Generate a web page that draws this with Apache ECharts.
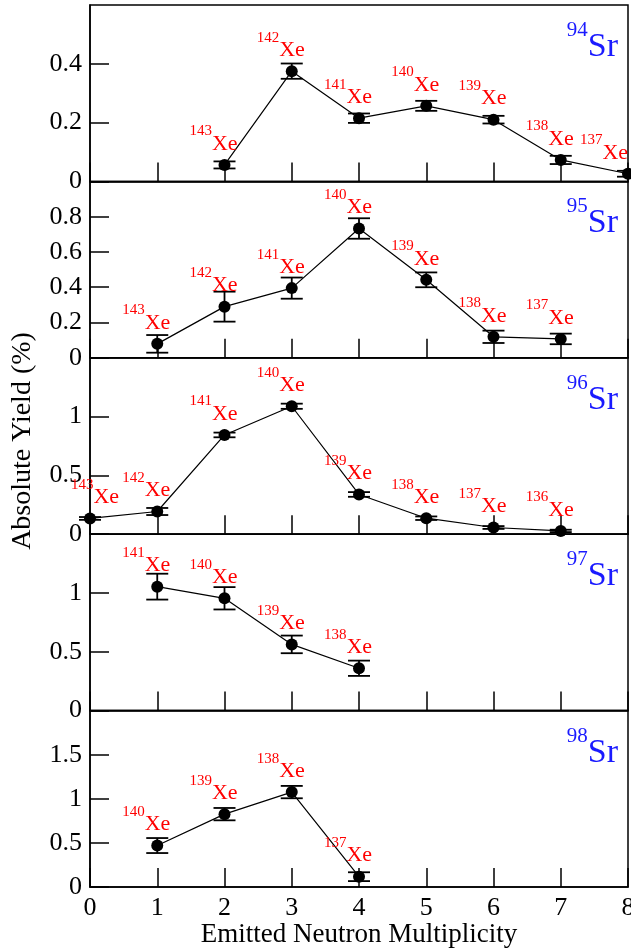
<!DOCTYPE html>
<html>
<head>
<meta charset="utf-8">
<script src="https://cdn.jsdelivr.net/npm/echarts@6/dist/echarts.min.js"></script>
<style>
  html, body { margin: 0; padding: 0; background: #fff; }
  #chart { width: 631px; height: 951px; }
</style>
</head>
<body>
<div id="chart"></div>
<script>
// values
const sr94X = [2, 3, 4, 5, 6, 7, 8]
const sr94Yield = [0.056, 0.375, 0.215, 0.257, 0.21, 0.073, 0.026]
const sr94Err = [0.012, 0.026, 0.016, 0.017, 0.013, 0.014, 0.01]
const sr94Xe = [143, 142, 141, 140, 139, 138, 137]

const sr95X = [1, 2, 3, 4, 5, 6, 7]
const sr95Yield = [0.079, 0.29, 0.395, 0.733, 0.442, 0.119, 0.107]
const sr95Err = [0.05, 0.085, 0.06, 0.058, 0.042, 0.035, 0.03]
const sr95Xe = [143, 142, 141, 140, 139, 138, 137]

const sr96X = [0, 1, 2, 3, 4, 5, 6, 7]
const sr96Yield = [0.134, 0.193, 0.844, 1.088, 0.338, 0.136, 0.057, 0.028]
const sr96Err = [0.012, 0.03, 0.02, 0.022, 0.02, 0.015, 0.012, 0.01]
const sr96Xe = [143, 142, 141, 140, 139, 138, 137, 136]

const sr97X = [1, 2, 3, 4]
const sr97Yield = [1.054, 0.955, 0.563, 0.36]
const sr97Err = [0.11, 0.095, 0.075, 0.065]
const sr97Xe = [141, 140, 139, 138]

const sr98X = [1, 2, 3, 4]
const sr98Yield = [0.47, 0.826, 1.076, 0.117]
const sr98Err = [0.085, 0.07, 0.07, 0.05]
const sr98Xe = [140, 139, 138, 137]

const srMass = [94, 95, 96, 97, 98]
const yMax = [0.6, 1.0, 1.5, 1.5, 2.0]
const yStep = [0.2, 0.2, 0.5, 0.5, 0.5]
const xTicks = [0, 8, 1] // min, max, interval

const panels = [
  [sr94X, sr94Yield, sr94Err, sr94Xe],
  [sr95X, sr95Yield, sr95Err, sr95Xe],
  [sr96X, sr96Yield, sr96Err, sr96Xe],
  [sr97X, sr97Yield, sr97Err, sr97Xe],
  [sr98X, sr98Yield, sr98Err, sr98Xe]
]

const FONT = 'Liberation Serif'
const TOP = 5
const PANEL_H = 176.4
const LEFT = 90
const RIGHT = 3

const chart = echarts.init(document.getElementById('chart'))

const grids = []
const xAxes = []
const yAxes = []
const series = []
const titles = []

panels.forEach(([xs, ys, errs, xe], i) => {
  const last = i === panels.length - 1
  grids.push({
    left: LEFT,
    right: RIGHT,
    top: TOP + i * PANEL_H,
    height: PANEL_H,
    outerBoundsMode: 'none',
    containLabel: false,
    show: true,
    borderColor: '#000',
    borderWidth: 1.5
  })
  xAxes.push({
    gridIndex: i,
    type: 'value',
    min: xTicks[0],
    max: xTicks[1],
    interval: xTicks[2],
    axisLine: { show: true, lineStyle: { color: '#000', width: 1.5 } },
    axisTick: { show: true, inside: true, length: 19, lineStyle: { color: '#000', width: 1.5 } },
    axisLabel: { show: last, color: '#000', fontFamily: FONT, fontSize: 26, margin: 8 },
    splitLine: { show: false },
    name: last ? 'Emitted Neutron Multiplicity' : '',
    nameLocation: 'middle',
    nameGap: 33,
    nameTextStyle: { color: '#000', fontFamily: FONT, fontSize: 27 }
  })
  yAxes.push({
    gridIndex: i,
    type: 'value',
    min: 0,
    max: yMax[i],
    interval: yStep[i],
    axisLine: { show: true, lineStyle: { color: '#000', width: 1.5 } },
    axisTick: { show: true, inside: true, length: 19, lineStyle: { color: '#000', width: 1.5 } },
    axisLabel: { color: '#000', fontFamily: FONT, fontSize: 26, margin: 8, showMaxLabel: false },
    splitLine: { show: false },
    name: i === 2 ? 'Absolute Yield (%)' : '',
    nameLocation: 'middle',
    nameGap: 53,
    nameRotate: 90,
    nameTextStyle: { color: '#000', fontFamily: FONT, fontSize: 28, padding: [0, 0, 0, 10] }
  })

  const pts = xs.map((x, k) => {
    let dx = -11
    if (x === xTicks[1]) dx = -24
    if (x === xTicks[0]) dx = 5
    return {
      value: [x, ys[k], errs[k], xe[k]],
      label: { offset: [dx, 0] }
    }
  })

  series.push({
    type: 'custom',
    xAxisIndex: i,
    yAxisIndex: i,
    z: 2,
    data: xs.map((x, k) => [x, ys[k], errs[k]]),
    renderItem(params, api) {
      const x = api.value(0)
      const y = api.value(1)
      const e = api.value(2)
      const hi = api.coord([x, y + e])
      const lo = api.coord([x, Math.max(0, y - e)])
      const w = 11
      const style = { stroke: '#000', lineWidth: 1.8 }
      return {
        type: 'group',
        children: [
          { type: 'line', shape: { x1: hi[0], y1: hi[1], x2: lo[0], y2: lo[1] }, style },
          { type: 'line', shape: { x1: hi[0] - w, y1: hi[1], x2: hi[0] + w, y2: hi[1] }, style },
          { type: 'line', shape: { x1: lo[0] - w, y1: lo[1], x2: lo[0] + w, y2: lo[1] }, style }
        ]
      }
    }
  })

  series.push({
    type: 'line',
    xAxisIndex: i,
    yAxisIndex: i,
    z: 3,
    data: pts,
    symbol: 'circle',
    symbolSize: 12,
    itemStyle: { color: '#000' },
    lineStyle: { color: '#000', width: 1.2 },
    animation: false,
    label: {
      show: true,
      position: 'top',
      distance: 4,
      formatter: p => '{s|' + p.value[3] + '}{x|Xe}',
      rich: {
        s: { fontFamily: FONT, fontSize: 15, color: '#ff0000', verticalAlign: 'top', lineHeight: 31 },
        x: { fontFamily: FONT, fontSize: 22, color: '#ff0000', verticalAlign: 'bottom', lineHeight: 31 }
      }
    }
  })

  titles.push({
    text: '{s|' + srMass[i] + '}{e|Sr}',
    right: 8,
    top: TOP + i * PANEL_H + 10,
    textStyle: {
      rich: {
        s: { fontFamily: FONT, fontSize: 21, fontWeight: 'normal', color: '#1a1aff', verticalAlign: 'top', lineHeight: 44 },
        e: { fontFamily: FONT, fontSize: 34, fontWeight: 'normal', color: '#1a1aff', verticalAlign: 'bottom', lineHeight: 44 }
      }
    }
  })
})

chart.setOption({
  backgroundColor: '#fff',
  animation: false,
  title: titles,
  grid: grids,
  xAxis: xAxes,
  yAxis: yAxes,
  series: series
})
</script>
</body>
</html>
